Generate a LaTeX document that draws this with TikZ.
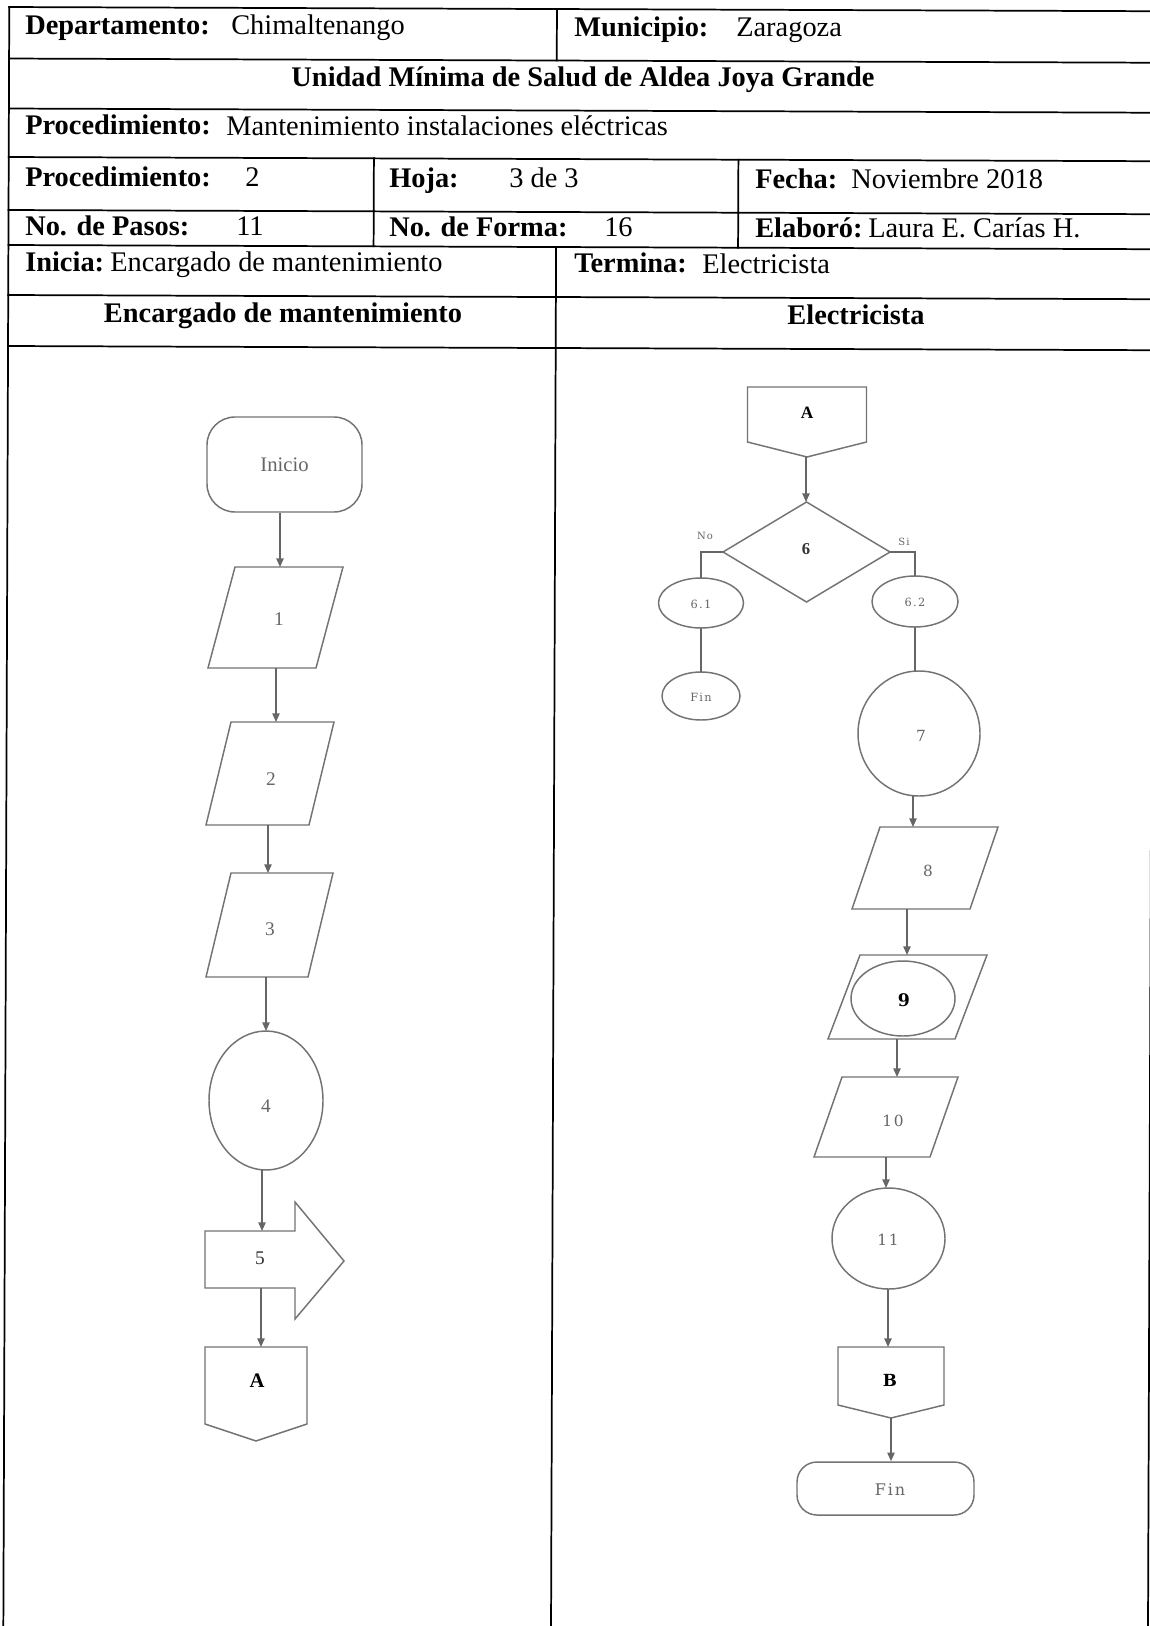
\documentclass[tikz,border=0pt]{standalone}
\usepackage{fontspec}
\setmainfont{Liberation Serif}
\newfontfamily\dvs{DejaVu Serif}
\newfontfamily\dvsls[LetterSpace=12]{DejaVu Serif}
\usetikzlibrary{shapes.geometric,arrows.meta,calc}
\newdimen\px \px=0.75pt
\newcommand\paraoutline[2]{\draw[shp] (#1.south west) -- ($(#1.north west)+(#2,0)$) -- (#1.north east) -- ($(#1.south east)-(#2,0)$) -- cycle;}
\newcommand\myoffpage[2]{\draw[shp] (#1.north west) -- (#1.north east) -- ($(#1.south east)+(0,-#2)$) -- (#1.south) -- ($(#1.south west)+(0,-#2)$) -- cycle;}
\begin{document}
\begin{tikzpicture}[x=0.75pt,y=-0.75pt,
  shp/.style={draw=black!55, line width=1.1pt},
  bx/.style={inner sep=0pt, outer sep=0pt},
  arr/.style={draw=black!60, line width=1.1pt, -{Triangle[length=6.5pt,width=5.5pt]}},
  ln/.style={draw=black!60, line width=1.1pt},
  tl/.style={line width=1.3pt, line cap=rect},
  hd/.style={anchor=base west, inner sep=0pt, font=\fontsize{21.3}{25}\selectfont},
  hdc/.style={anchor=base, inner sep=0pt, font=\bfseries\fontsize{21.3}{25}\selectfont},
  lt/.style={inner sep=0pt, text=black!60, font=\fontsize{14.5}{16}\selectfont},
  rt/.style={inner sep=0pt, text=black!60, font=\dvsls\fontsize{11.5}{14}\selectfont},
  rs/.style={inner sep=0pt, text=black!60, font=\dvsls\fontsize{8.5}{10}\selectfont},
]
\useasboundingbox (0,0) rectangle (1149,1626);
\fill[white] (0,0) rectangle (1149,1626);

% table grid (scan slightly rotated)
\begin{scope}[rotate=-0.21]
\draw[tl] (9.3,7) -- (9.3,1660);
\draw[tl] (1154,7) -- (1154,1660);
\foreach \yy in {7,58.5,108.5,157,210,245,295,346} \draw[tl] (9.3,\yy) -- (1165,\yy);
\draw[tl] (557,7) -- (557,58.5);
\draw[tl] (374.5,157) -- (374.5,245);
\draw[tl] (739,157) -- (739,245);
\draw[tl] (557,245) -- (557,1660);
\end{scope}

% header texts
\node[hd] (h1a) at (25,35) {\bfseries Departamento:};
\node[hd] (h1b) at (231,35) {Chimaltenango};
\node[hd] (h1c) at (574,37) {\bfseries Municipio:};
\node[hd] (h1d) at (736,37) {Zaragoza};
\node[hdc] (h2) at (583,87) {Unidad Mínima de Salud de Aldea Joya Grande};
\node[hd] (h3a) at (25,135) {\bfseries Procedimiento:};
\node[hd] (h3b) at (226,136) {Mantenimiento instalaciones eléctricas};
\node[hd] (h4a) at (25,187) {\bfseries Procedimiento:};
\node[hd] (h4b) at (245,187) {2};
\node[hd] (h4c) at (389,188) {\bfseries Hoja:};
\node[hd] (h4d) at (509,188) {3 de 3};
\node[hd] (h4e) at (755,189) {\bfseries Fecha:};
\node[hd] (h4f) at (851,189) {Noviembre 2018};
\node[hd] (h5a) at (25,236) {\bfseries No. de Pasos:};
\node[hd] (h5b) at (236,236) {11};
\node[hd] (h5c) at (389,237) {\bfseries No. de Forma:};
\node[hd] (h5d) at (604,237) {16};
\node[hd] (h5e) at (755,238) {\bfseries Elaboró:};
\node[hd] (h5f) at (868,238) {Laura E. Carías H.};
\node[hd] (h6a) at (25,272) {\bfseries Inicia:};
\node[hd] (h6b) at (110,272) {Encargado de mantenimiento};
\node[hd] (h6c) at (574,273) {\bfseries Termina:};
\node[hd] (h6d) at (702,274) {Electricista};
\node[hdc] (h7a) at (283,323) {Encargado de mantenimiento};
\node[hdc] (h7b) at (856,325) {Electricista};

% ---------- left lane ----------
\node[shp, rectangle, rounded corners=28\px, minimum width=155\px, minimum height=95\px, inner sep=0pt, text=black!60, font=\fontsize{15.5}{18}\selectfont] (inicio) at (284.5,464.5) {Inicio};

\node[bx, minimum width=135\px, minimum height=101\px] (p1) at (275.5,617.5) {};
\paraoutline{p1}{27}
\node[lt] (l1) at (279,619) {1};

\node[bx, minimum width=128\px, minimum height=103\px] (p2) at (270,773.5) {};
\paraoutline{p2}{25}
\node[lt] (l2) at (271,779) {2};

\node[bx, minimum width=127\px, minimum height=104\px] (p3) at (269.5,925) {};
\paraoutline{p3}{25}
\node[lt] (l3) at (270,929) {3};

\node[shp, ellipse, bx, minimum width=114\px, minimum height=139\px] (e4) at (266,1100.5) {};
\node[lt] (l4) at (266,1106) {4};

\node[bx, minimum width=90\px, minimum height=57\px] (n5) at (250,1259.5) {};
\draw[shp] (n5.north west) -- (n5.north east) -- ($(n5.north east)+(0,-29)$) -- ($(n5.east)+(49,1.5)$) -- ($(n5.south east)+(0,31)$) -- (n5.south east) -- (n5.south west) -- cycle;
\node[lt, text=black!80] (l5) at (260,1258) {5};

\node[bx, minimum width=102\px, minimum height=94\px] (An) at (256,1394) {};
\myoffpage{An}{17}
\node[inner sep=0pt, font=\bfseries\fontsize{15.5}{18}\selectfont] (lA1) at (257,1381) {A};

\draw[arr] (inicio.south -| 280,0) -- (p1.north -| 280,0);
\draw[arr] (p1.south -| 276,0) -- (p2.north -| 276,0);
\draw[arr] (p2.south -| 268,0) -- (p3.north -| 268,0);
\draw[arr] (p3.south -| 266,0) -- (e4.north -| 266,0);
\draw[arr] (e4.south -| 262,0) -- (n5.north -| 262,0);
\draw[arr] (n5.south -| 261,0) -- (An.north -| 261,0);

% ---------- right lane ----------
\node[bx, minimum width=119\px, minimum height=70\px] (Ar) at (807,422) {};
\myoffpage{Ar}{15}
\node[inner sep=0pt, font=\bfseries\fontsize{13}{15}\selectfont] (lA2) at (807,413) {A};

\node[shp, diamond, bx, minimum width=167\px, minimum height=100\px] (d6) at (806.5,552) {};
\node[inner sep=0pt, text=black!80, font=\bfseries\fontsize{12.5}{15}\selectfont] (l6) at (806,549) {6};
\node[rs, font=\dvsls\fontsize{7.5}{9}\selectfont] (lno) at (705,536) {No};
\node[rs, font=\dvsls\fontsize{7.5}{9}\selectfont] (lsi) at (904,542) {Si};

\node[shp, ellipse, bx, minimum width=85\px, minimum height=50\px] (e61) at (701,603) {};
\node[rs] (l61) at (701,604) {6.1};
\node[shp, ellipse, bx, minimum width=78\px, minimum height=48\px] (fin1) at (701,696) {};
\node[rs] (lf1) at (701,697) {Fin};
\node[shp, ellipse, bx, minimum width=86\px, minimum height=51\px] (e62) at (915,601.5) {};
\node[rs] (l62) at (915,602) {6.2};

\node[shp, ellipse, bx, minimum width=122\px, minimum height=125\px] (e7) at (919,733.5) {};
\node[rt] (l7) at (921,736) {7};

\node[bx, minimum width=146\px, minimum height=82\px] (p8) at (925,868) {};
\paraoutline{p8}{28}
\node[rt] (l8) at (928,871) {8};

\node[bx, minimum width=159\px, minimum height=84\px] (p9) at (907.5,997) {};
\paraoutline{p9}{32}
\node[shp, ellipse, bx, minimum width=104\px, minimum height=75\px] (e9) at (903,998.5) {};
\node[inner sep=0pt, font=\dvs\bfseries\fontsize{13}{15}\selectfont] (l9) at (904,1000) {9};

\node[bx, minimum width=144\px, minimum height=80\px] (p10) at (886,1117) {};
\paraoutline{p10}{28}
\node[rt] (l10) at (893,1121) {10};

\node[shp, ellipse, bx, minimum width=113\px, minimum height=101\px] (e11) at (888.5,1238.5) {};
\node[rt] (l11) at (888,1240) {11};

\node[bx, minimum width=106\px, minimum height=71\px] (Bn) at (891,1382.5) {};
\myoffpage{Bn}{13}
\node[inner sep=0pt, font=\dvs\bfseries\fontsize{12.5}{15}\selectfont] (lB) at (890,1380) {B};

\node[shp, rectangle, rounded corners=20\px, minimum width=177\px, minimum height=53\px, inner sep=0pt] (fin2) at (885.5,1488.5) {};
\node[rt, font=\dvsls\fontsize{12}{14}\selectfont] (lf2) at (890,1490) {Fin};

\draw[arr] (Ar.south -| 806,0) -- (d6.north -| 806,0);
\draw[ln] (d6.west) -| (e61.north);
\draw[ln] (e61.south) -- (fin1.north);
\draw[ln] (d6.east) -| (e62.north);
\draw[ln] (e62.south) -- (e62.south |- e7.north);
\draw[arr] (e7.south -| 913,0) -- (p8.north -| 913,0);
\draw[arr] (p8.south -| 907,0) -- (p9.north -| 907,0);
\draw[arr] (p9.south -| 897,0) -- (p10.north -| 897,0);
\draw[arr] (p10.south -| 886,0) -- (e11.north -| 886,0);
\draw[arr] (e11.south -| 888,0) -- (Bn.north -| 888,0);
\draw[arr] (Bn.south) -- (Bn.south |- fin2.north);
\end{tikzpicture}
\end{document}
